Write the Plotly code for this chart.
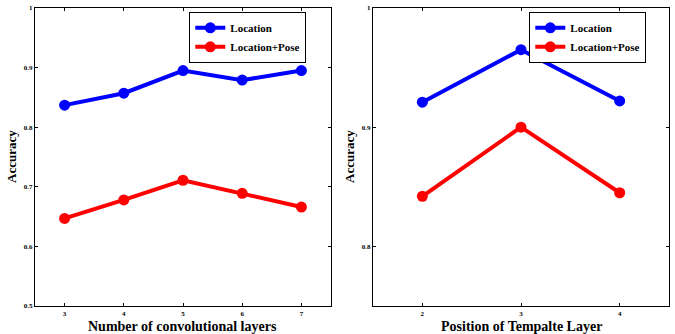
import plotly.graph_objects as go
from plotly.subplots import make_subplots

# left panel: number of convolutional layers
conv_layers = [3, 4, 5, 6, 7]
conv_location = [0.837, 0.857, 0.895, 0.879, 0.895]
conv_location_pose = [0.647, 0.678, 0.711, 0.689, 0.666]

# right panel: position of template layer
tmpl_position = [2, 3, 4]
tmpl_location = [0.921, 0.965, 0.922]
tmpl_location_pose = [0.842, 0.900, 0.845]

left_yticks = [0.5, 0.6, 0.7, 0.8, 0.9, 1.0]
left_yticktext = ["0.5", "0.6", "0.7", "0.8", "0.9", "1"]
right_yticks = [0.8, 0.9, 1.0]
right_yticktext = ["0.8", "0.9", "1"]

FONT = "Liberation Serif, Times New Roman, serif"
BLUE = "#0000ff"
RED = "#ff0000"
W, H = 675, 334

fig = make_subplots(rows=1, cols=2)


def add_pair(x, y_loc, y_pose, col, legend):
    fig.add_trace(go.Scatter(
        x=x, y=y_loc, mode="lines+markers", name="<b>Location</b>",
        line=dict(color=BLUE, width=4), marker=dict(color=BLUE, size=11),
        legend=legend), row=1, col=col)
    fig.add_trace(go.Scatter(
        x=x, y=y_pose, mode="lines+markers", name="<b>Location+Pose</b>",
        line=dict(color=RED, width=4), marker=dict(color=RED, size=11),
        legend=legend), row=1, col=col)


add_pair(conv_layers, conv_location, conv_location_pose, 1, "legend")
add_pair(tmpl_position, tmpl_location, tmpl_location_pose, 2, "legend2")

ydom = [1 - 306 / H, 1 - 8 / H]
xdom1 = [35 / W, 331 / W]
xdom2 = [373 / W, 669 / W]
axis_common = dict(
    showline=True, linecolor="black", linewidth=1.3, mirror="ticks",
    ticks="inside", ticklen=3, tickwidth=1.2, tickcolor="black",
    showgrid=False, zeroline=False, automargin=False,
    tickfont=dict(family=FONT, size=7, color="black"),
)

fig.update_xaxes(axis_common)
fig.update_yaxes(axis_common)


def bold(labels):
    return [f"<b>{t}</b>" for t in labels]


fig.update_xaxes(domain=xdom1, range=[2.5, 7.5], tickvals=conv_layers,
                 ticktext=bold(conv_layers), row=1, col=1)
fig.update_xaxes(domain=xdom2, range=[1.5, 4.5], tickvals=tmpl_position,
                 ticktext=bold(tmpl_position), row=1, col=2)
fig.update_yaxes(domain=ydom, range=[0.5, 1.0], tickvals=left_yticks,
                 ticktext=bold(left_yticktext), row=1, col=1)
fig.update_yaxes(domain=ydom, range=[0.75, 1.0], tickvals=right_yticks,
                 ticktext=bold(right_yticktext), row=1, col=2)

# axis titles as annotations so the plot areas keep their place
title_font = dict(family=FONT, size=14, color="black")
for xd, text in [(xdom1, "Number of convolutional layers"),
                 (xdom2, "Position of Tempalte Layer")]:
    fig.add_annotation(text=f"<b>{text}</b>", xref="paper", yref="paper",
                       x=(xd[0] + xd[1]) / 2, y=0, xanchor="center",
                       yanchor="bottom", showarrow=False, font=title_font,
                       borderpad=0, yshift=-1)
    fig.add_annotation(text="<b>Accuracy</b>", xref="paper", yref="paper",
                       x=xd[0] - 24 / W, y=(ydom[0] + ydom[1]) / 2,
                       xanchor="center", yanchor="middle", textangle=-90,
                       showarrow=False, font=dict(title_font, size=13))

legend_common = dict(
    bgcolor="white", bordercolor="black", borderwidth=1.3,
    font=dict(family=FONT, size=11, color="black"),
    xanchor="right", yanchor="top", tracegroupgap=0,
)

fig.update_layout(
    width=W, height=H,
    margin=dict(l=0, r=0, t=0, b=0),
    paper_bgcolor="white", plot_bgcolor="white",
    font=dict(family=FONT, color="black"),
    legend=dict(legend_common, x=306 / W, y=1 - 12 / H),
    legend2=dict(legend_common, x=646 / W, y=1 - 12 / H),
)

fig.write_html("out.html", config={"displayModeBar": False},
               post_script="document.body.style.margin = '0';")
